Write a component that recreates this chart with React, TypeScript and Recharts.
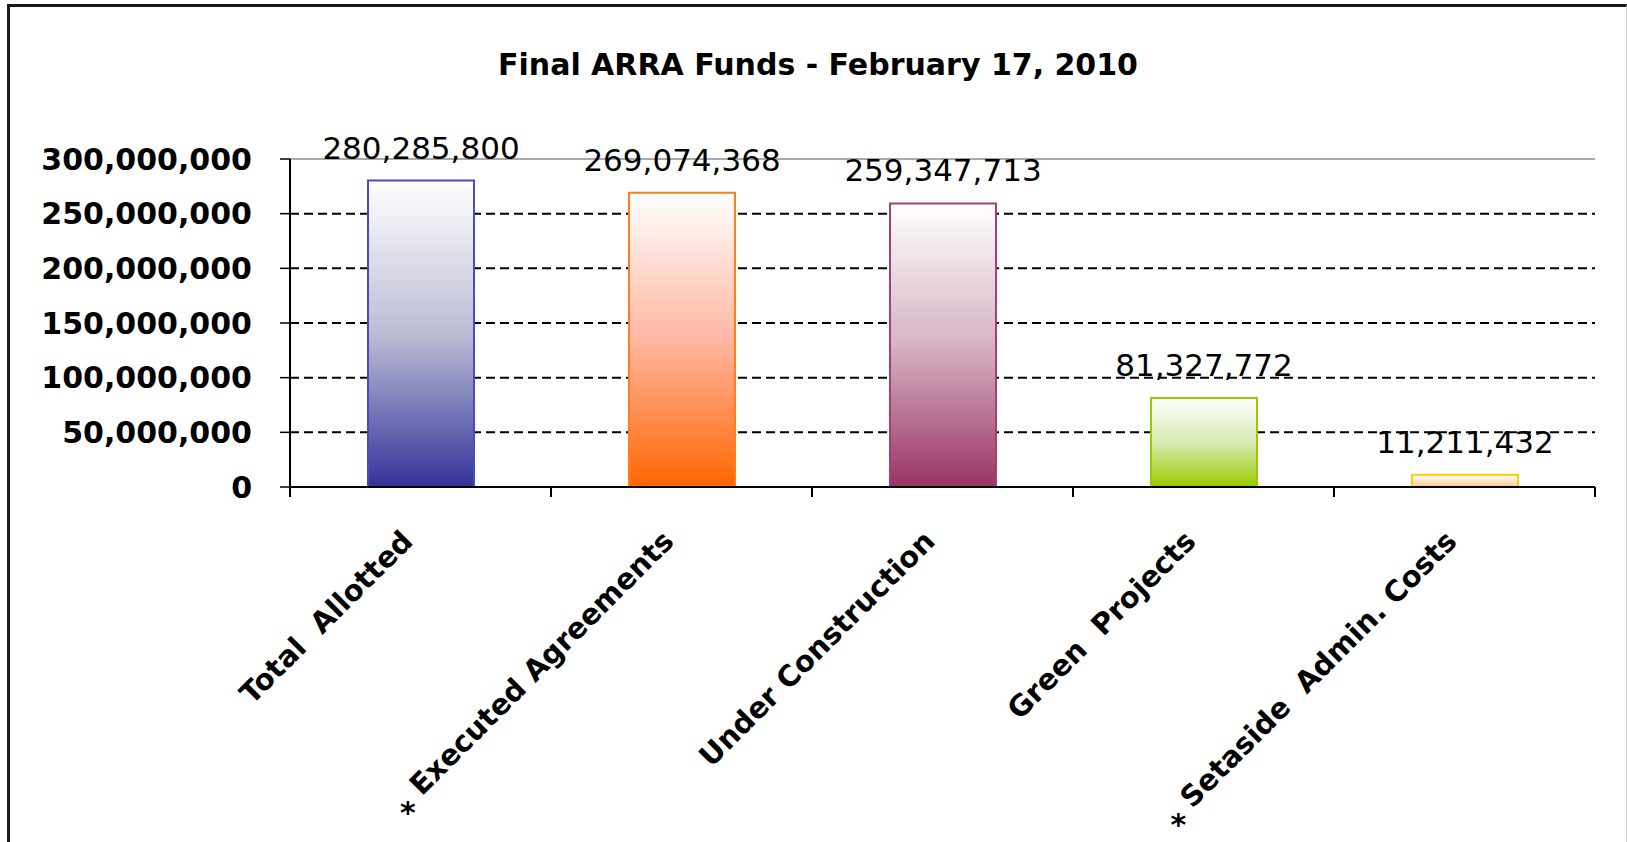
import React from "react";
import { Bar, BarChart, CartesianGrid, Cell, LabelList, ReferenceLine, XAxis, YAxis } from "recharts";

// values
const categories = [
  "Total  Allotted",
  "Executed Agreements",
  "Under Construction",
  "Green  Projects",
  "Setaside  Admin. Costs",
];
const funds = [280285800, 269074368, 259347713, 81327772, 11211432];
const footnoted = [false, true, false, false, true];
const yTicks = [0, 50000000, 100000000, 150000000, 200000000, 250000000, 300000000];
const gridTicks = [50000000, 100000000, 150000000, 200000000, 250000000];
const yMax = 300000000;

const barColors = ["#333399", "#FF6600", "#993366", "#99CC00", "#FFCC88"];
const barMids = ["#bcbcd6", "#ffb6a2", "#d6b2c2", "#d6eab2", "#ffe6c6"];
const barStrokes = ["#4a4ac2", "#FF7F1F", "#A3407A", "#99CC00", "#FFCC00"];

const data = categories.map((name, i) => ({ name, value: funds[i] }));

const W = 1627;
const H = 842;
const PLOT_LEFT = 290;
const PLOT_RIGHT = 1595;
const PLOT_TOP = 159;
const PLOT_BOTTOM = 487;
const BAND = (PLOT_RIGHT - PLOT_LEFT) / categories.length;

const FONT = "'DejaVu Sans', Verdana, sans-serif";
const CAT_SIZE = 29;

const fmt = (v: number) => Number(v).toLocaleString("en-US");

let ctx: CanvasRenderingContext2D | null = null;
const measure = (s: string) => {
  if (!ctx) ctx = document.createElement("canvas").getContext("2d");
  if (!ctx) return s.length * CAT_SIZE * 0.62;
  ctx.font = `bold ${CAT_SIZE}px 'DejaVu Sans'`;
  return ctx.measureText(s).width;
};

function CategoryTick(props: any) {
  const { x, y, payload, index } = props;
  const ax = x - 6;
  const ay = y + 56;
  const star = footnoted[index];
  const len = star ? measure(String(payload.value)) : 0;
  const left = x - BAND / 2;
  const right = x + BAND / 2;
  return (
    <g>
      <line x1={left} y1={y} x2={left} y2={y + 10} stroke="#000" strokeWidth={2} />
      {index === categories.length - 1 && (
        <line x1={right} y1={y} x2={right} y2={y + 10} stroke="#000" strokeWidth={2} />
      )}
      <text
        x={ax}
        y={ay}
        transform={`rotate(-45 ${ax} ${ay})`}
        textAnchor="end"
        fill="#000"
        fontSize={CAT_SIZE}
        fontWeight="bold"
        fontFamily={FONT}
        style={{ whiteSpace: "pre" }}
      >
        {payload.value}
      </text>
      {star && (
        <text
          x={ax - len * 0.707 - 14}
          y={ay + len * 0.707 + 26}
          textAnchor="middle"
          fill="#000"
          fontSize={30}
          fontWeight="bold"
          fontFamily={FONT}
        >
          *
        </text>
      )}
    </g>
  );
}

export default function App() {
  return (
    <div style={{ position: "absolute", left: 0, top: 0, width: W, height: H, background: "#fff" }}>
      <div
        style={{
          position: "absolute",
          left: 0,
          top: 47,
          width: 1636,
          textAlign: "center",
          fontFamily: FONT,
          fontWeight: "bold",
          fontSize: 30,
          lineHeight: "36px",
          color: "#000",
        }}
      >
        Final ARRA Funds - February 17, 2010
      </div>
      <div style={{ position: "absolute", left: 0, top: 0 }}>
        <BarChart
          width={W}
          height={H}
          data={data}
          margin={{ top: PLOT_TOP, right: W - PLOT_RIGHT, left: 0, bottom: 0 }}
        >
          <defs>
            {barColors.map((c, i) => (
              <linearGradient key={i} id={`grad${i}`} x1="0" y1="0" x2="0" y2="1">
                <stop offset="0%" stopColor="#ffffff" />
                <stop offset="50%" stopColor={barMids[i]} />
                <stop offset="100%" stopColor={c} />
              </linearGradient>
            ))}
          </defs>
          <CartesianGrid
            vertical={false}
            horizontalValues={gridTicks}
            stroke="#000"
            strokeDasharray="9 5"
            strokeWidth={2}
          />
          <ReferenceLine y={yMax} stroke="#8c8c8c" strokeWidth={1.5} />
          <XAxis
            dataKey="name"
            height={H - PLOT_BOTTOM}
            interval={0}
            tickSize={0}
            tickMargin={0}
            tickLine={false}
            axisLine={{ stroke: "#000", strokeWidth: 2 }}
            tick={(p: any) => <CategoryTick {...p} />}
          />
          <YAxis
            width={PLOT_LEFT}
            domain={[0, yMax]}
            ticks={yTicks}
            interval={0}
            tickFormatter={fmt}
            tickSize={10}
            tickMargin={28}
            axisLine={{ stroke: "#000", strokeWidth: 2 }}
            tickLine={{ stroke: "#000", strokeWidth: 1.5 }}
            tick={{ fill: "#000", fontSize: 30, fontWeight: "bold", fontFamily: FONT }}
          />
          <YAxis
            yAxisId="right"
            orientation="right"
            type="number"
            width={0}
            domain={[0, yMax]}
            allowDataOverflow
            tick={false}
            tickLine={false}
            axisLine={{ stroke: "#8c8c8c", strokeWidth: 1.5 }}
          />
          <Bar dataKey="value" barSize={106} isAnimationActive={false}>
            {data.map((_, i) => (
              <Cell key={i} fill={`url(#grad${i})`} stroke={barStrokes[i]} strokeWidth={2} />
            ))}
            <LabelList
              dataKey="value"
              position="top"
              offset={22}
              formatter={(v: any) => fmt(v)}
              fill="#000"
              fontSize={31}
              fontFamily={FONT}
            />
          </Bar>
        </BarChart>
      </div>
      <div
        style={{
          position: "absolute",
          left: 7,
          top: 4,
          width: W - 7,
          height: H - 4,
          boxSizing: "border-box",
          borderTop: "3px solid #1a1a1a",
          borderLeft: "3px solid #1a1a1a",
          borderRight: "1px solid #d0d0d0",
          pointerEvents: "none",
        }}
      />
    </div>
  );
}
